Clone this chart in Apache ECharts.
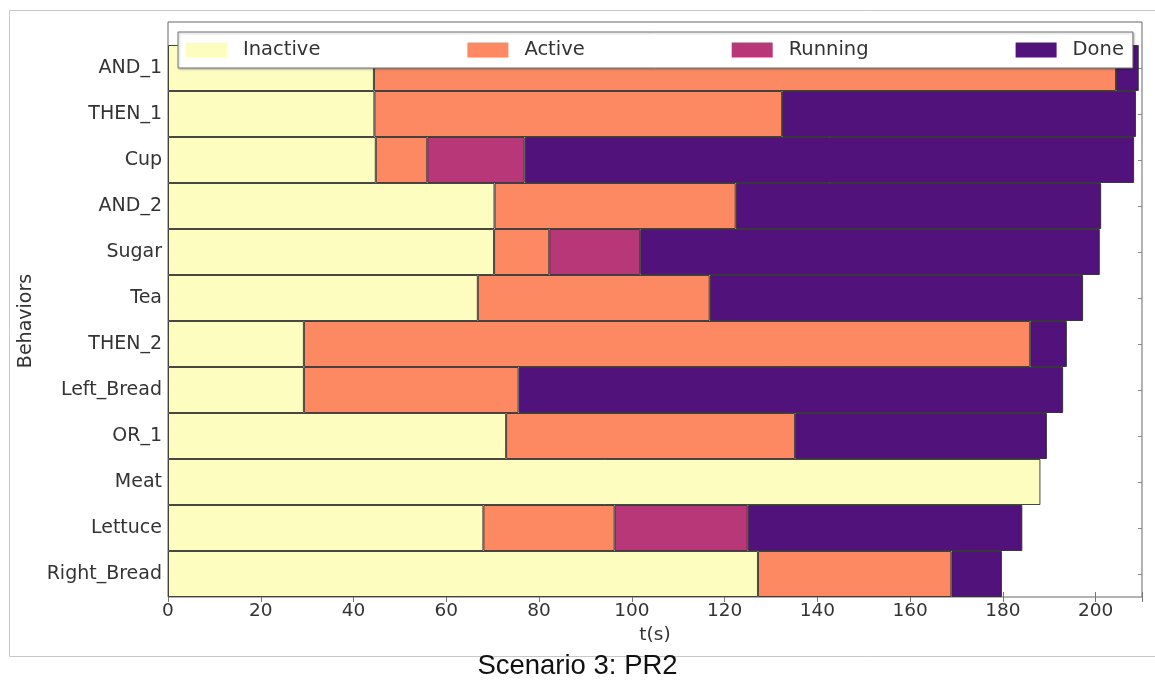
<!DOCTYPE html>
<html><head><meta charset="utf-8">
<script src="https://cdn.jsdelivr.net/npm/echarts@6/dist/echarts.min.js"></script>
<style>html,body{margin:0;padding:0;background:#fff}#c{width:1155px;height:681px}</style>
</head><body><div id="c"></div>
<script>
const behaviors = ['AND_1','THEN_1','Cup','AND_2','Sugar','Tea','THEN_2','Left_Bread','OR_1','Meat','Lettuce','Right_Bread'];
const states = ['Inactive','Active','Running','Done'];
const stateColors = ['#fcfdbf','#fc8961','#b73779','#51127c'];
// times (s) at which each behavior leaves a state (null = state never entered)
const inactiveEnd = [44.4, 44.5, 44.8, 70.4, 70.3, 66.8, 29.3, 29.3, 72.9, 188.1, 68.0, 127.2];
const activeEnd   = [204.4, 132.4, 55.9, 122.4, 82.2, 116.8, 185.9, 75.6, 135.2, null, 96.3, 168.9];
const runningEnd  = [null, null, 76.9, null, 101.8, null, null, null, null, null, 125.0, null];
const doneEnd     = [209.3, 208.7, 208.3, 201.2, 200.9, 197.3, 193.8, 193.0, 189.5, null, 184.2, 179.8];
const xTicks = [0, 20, 40, 60, 80, 100, 120, 140, 160, 180, 200];
const xMax = 210;

const dur = {Inactive: [], Active: [], Running: [], Done: []};
behaviors.forEach((b, i) => {
  dur.Inactive.push(inactiveEnd[i]);
  dur.Active.push(activeEnd[i] != null ? +(activeEnd[i] - inactiveEnd[i]).toFixed(2) : '-');
  dur.Running.push(runningEnd[i] != null ? +(runningEnd[i] - activeEnd[i]).toFixed(2) : '-');
  const prev = runningEnd[i] != null ? runningEnd[i] : activeEnd[i];
  dur.Done.push(doneEnd[i] != null ? +(doneEnd[i] - prev).toFixed(2) : '-');
});

const chart = echarts.init(document.getElementById('c'), null, {renderer: 'canvas'});
const F = 'DejaVu Sans';
const interval = xTicks[1] - xTicks[0];
const L = 168, R = 1155 - 1142, B = 681 - 597;

chart.setOption({
  animation: false,
  backgroundColor: '#fff',
  title: {
    text: 'Scenario 3: PR2', left: 'center', top: 647,
    textStyle: {fontFamily: 'Liberation Sans', fontSize: 27.5, fontWeight: 'normal', color: '#111'}
  },
  graphic: [{
    type: 'rect', left: 7, top: 8, z: -10, silent: true,
    shape: {width: 1147, height: 646},
    style: {fill: 'none', stroke: '#c8c8c8', lineWidth: 1}
  }],
  legend: {
    data: states, left: 178, top: 32, orient: 'horizontal',
    itemWidth: 41, itemHeight: 15, itemGap: 147, icon: 'rect',
    padding: [8, 9, 8, 8],
    backgroundColor: '#fff', borderColor: '#777', borderWidth: 1,
    shadowColor: 'rgba(0,0,0,0.25)', shadowOffsetX: 1, shadowOffsetY: 1, shadowBlur: 2,
    itemStyle: {borderWidth: 0},
    textStyle: {fontFamily: F, fontSize: 19.5, color: '#333', padding: [0, 0, 0, 11]},
    selectedMode: false
  },
  grid: [
    {left: L, right: R, top: 45, bottom: B, containLabel: false},
    {left: L, right: R, top: 22, bottom: B, show: true, borderColor: '#666', borderWidth: 1, backgroundColor: 'transparent'}
  ],
  xAxis: [
    {gridIndex: 0, type: 'value', min: 0, max: xMax, interval: interval,
     axisLine: {show: false}, splitLine: {show: false},
     axisTick: {show: true, inside: true, length: 5, lineStyle: {color: '#777'}},
     axisLabel: {fontFamily: F, fontSize: 18.5, color: '#333', margin: 5,
       formatter: v => xTicks.includes(v) ? String(v) : ''},
     name: 't(s)', nameLocation: 'middle', nameGap: 27,
     nameTextStyle: {fontFamily: F, fontSize: 18.5, color: '#333'}},
    {gridIndex: 1, type: 'value', position: 'top', min: 0, max: xMax, interval: interval,
     axisLine: {show: false}, splitLine: {show: false}, axisLabel: {show: false},
     axisTick: {show: true, inside: true, length: 5, lineStyle: {color: '#777'}}}
  ],
  yAxis: [
    {gridIndex: 0, type: 'category', data: behaviors, inverse: true,
     axisLine: {show: false},
     axisTick: {show: true, inside: true, length: 4, alignWithLabel: true, lineStyle: {color: '#888'}},
     axisLabel: {fontFamily: F, fontSize: 19, color: '#333', margin: 6},
     name: 'Behaviors', nameLocation: 'middle', nameGap: 127, nameRotate: 90,
     nameTextStyle: {fontFamily: F, fontSize: 19, color: '#333'}},
    {gridIndex: 0, type: 'category', data: behaviors, inverse: true, position: 'right',
     axisLine: {show: false}, axisLabel: {show: false},
     axisTick: {show: true, inside: true, length: 4, alignWithLabel: true, lineStyle: {color: '#888'}}},
    {gridIndex: 1, type: 'value', show: false}
  ],
  series: states.map((s, k) => ({
    name: s, type: 'bar', stack: 'time', xAxisIndex: 0, yAxisIndex: 0,
    barWidth: '100%', data: dur[s],
    itemStyle: {color: stateColors[k], borderColor: 'rgba(40,40,40,0.85)', borderWidth: 1}
  }))
});
</script>
</body></html>
